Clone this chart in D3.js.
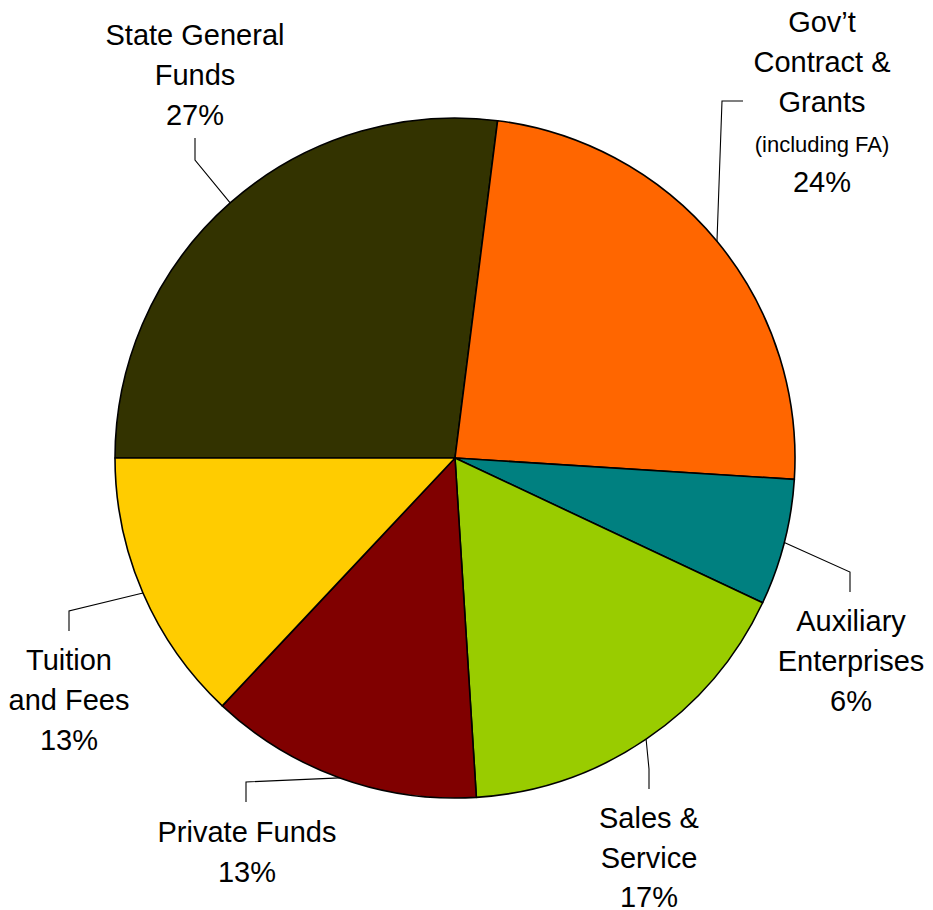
<!DOCTYPE html>
<html>
<head>
<meta charset="utf-8">
<script src="https://cdn.jsdelivr.net/npm/d3@7"></script>
<style>
  html, body { margin: 0; padding: 0; background: #ffffff; }
  svg { display: block; }
  text { font-family: "Liberation Sans", Arial, sans-serif; fill: #000; }
</style>
</head>
<body>
<svg id="chart" width="933" height="910"></svg>
<script>
// Revenue sources, in percent of total
const categories = [
  "State General Funds",
  "Gov’t Contract & Grants",
  "Auxiliary Enterprises",
  "Sales & Service",
  "Private Funds",
  "Tuition and Fees"
];
const values = [27, 24, 6, 17, 13, 13];
const colors = ["#333300", "#FF6600", "#008080", "#99CC00", "#800000", "#FFCC00"];

// Label text lines for each slice (percent line is appended from values)
const labelLines = [
  ["State General", "Funds"],
  ["Gov’t", "Contract &", "Grants", "(including FA)"],
  ["Auxiliary", "Enterprises"],
  ["Sales &", "Service"],
  ["Private Funds"],
  ["Tuition", "and Fees"]
];

const W = 933, H = 910;
const cx = 455, cy = 458, R = 340;
const lineStep = 40;

// Label placement: centre x, first baseline, leader elbow and end
const labelLayout = [
  { x: 195, y: 45,  elbow: [195, 160], end: [195, 138] },
  { x: 822, y: 32,  elbow: [722, 101], end: [743, 101] },
  { x: 851, y: 631, elbow: [850, 572], end: [850, 592] },
  { x: 649, y: 828, elbow: [649, 769], end: [649, 789] },
  { x: 247, y: 842, elbow: [246, 782], end: [246, 802] },
  { x: 69,  y: 670, elbow: [69, 611],  end: [69, 631] }
];

const svg = d3.select("#chart");
const g = svg.append("g").attr("transform", `translate(${cx},${cy})`);

const data = categories.map((c, i) => ({ name: c, value: values[i], i }));

const pie = d3.pie()
  .value(d => d.value)
  .sort(null)
  .startAngle(-Math.PI / 2)
  .endAngle(3 * Math.PI / 2);

const arc = d3.arc().innerRadius(0).outerRadius(R);
const arcs = pie(data);

g.selectAll("path.slice")
  .data(arcs)
  .join("path")
  .attr("class", "slice")
  .attr("d", arc)
  .attr("fill", d => colors[d.data.i])
  .attr("stroke", "#000")
  .attr("stroke-width", 1.6)
  .attr("stroke-linejoin", "round");

// Leader lines from slice midpoints on the rim to the labels
const leaders = svg.append("g");
arcs.forEach(a => {
  const mid = (a.startAngle + a.endAngle) / 2;
  const ax = cx + R * Math.sin(mid);
  const ay = cy - R * Math.cos(mid);
  const L = labelLayout[a.data.i];
  leaders.append("polyline")
    .attr("points", [[ax, ay], L.elbow, L.end].map(p => p.join(",")).join(" "))
    .attr("fill", "none")
    .attr("stroke", "#000")
    .attr("stroke-width", 1.1);
});

// Labels
const labels = svg.append("g");
arcs.forEach(a => {
  const i = a.data.i;
  const L = labelLayout[i];
  const lines = labelLines[i].concat([`${values[i]}%`]);
  const t = labels.append("text")
    .attr("text-anchor", "middle");
  lines.forEach((ln, k) => {
    t.append("tspan")
      .attr("x", L.x)
      .attr("y", L.y + k * (i === 3 ? 39.5 : lineStep))
      .style("font-size", ln.startsWith("(") ? "22px" : "29px")
      .text(ln);
  });
});
</script>
</body>
</html>
